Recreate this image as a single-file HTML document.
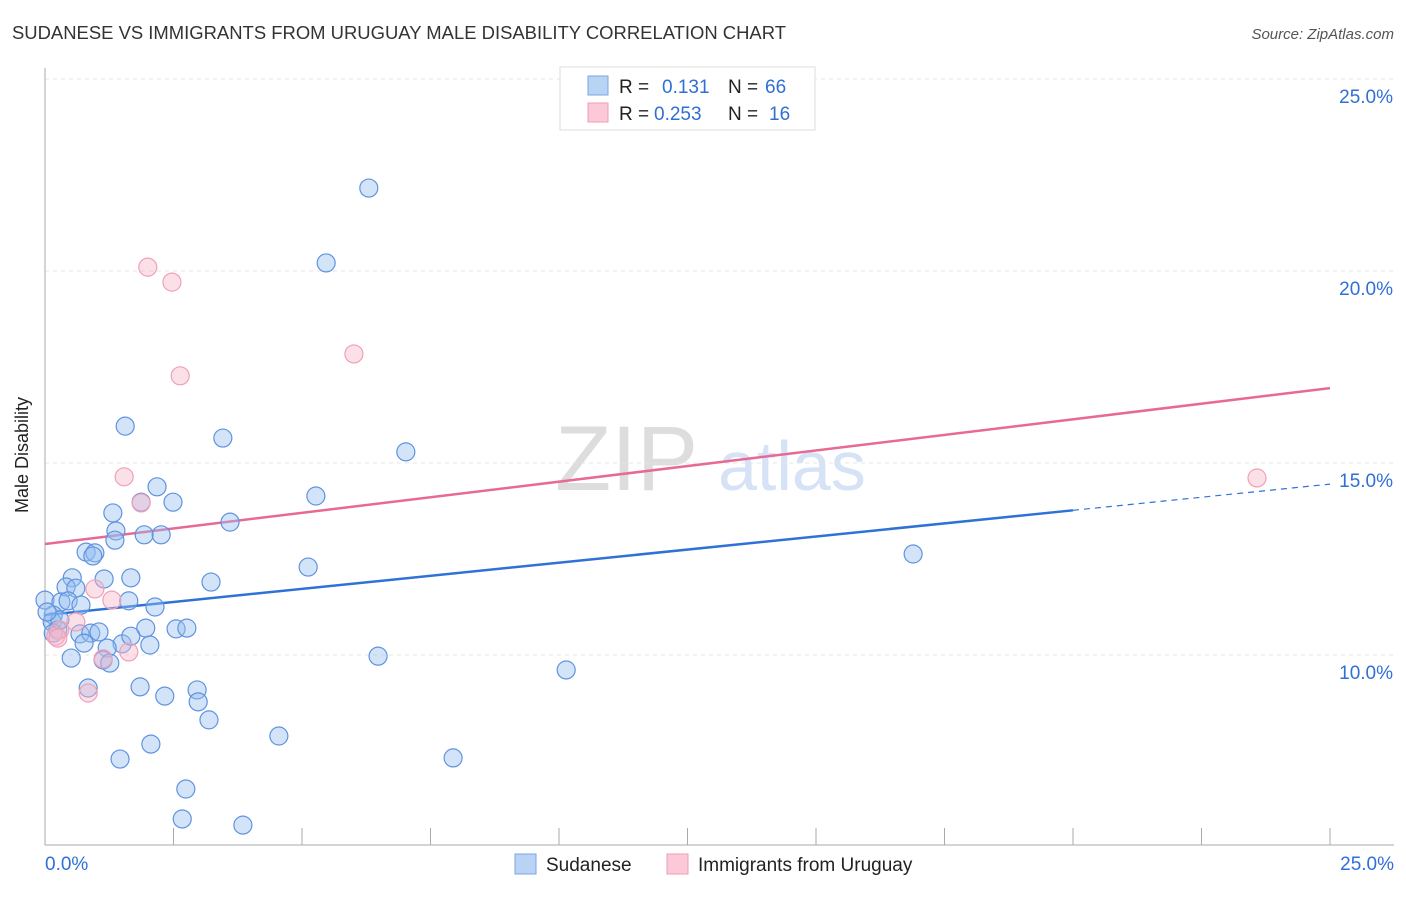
<!DOCTYPE html>
<html><head><meta charset="utf-8"><style>
body{margin:0;background:#fff;font-family:"Liberation Sans",sans-serif}
svg text{font-family:"Liberation Sans",sans-serif}
</style></head><body>
<svg id="c" width="1406" height="892" xmlns="http://www.w3.org/2000/svg">
<text x="12" y="39" font-size="18" fill="#333" textLength="774" lengthAdjust="spacingAndGlyphs">SUDANESE VS IMMIGRANTS FROM URUGUAY MALE DISABILITY CORRELATION CHART</text>
<text x="1394" y="39" font-size="15" fill="#555" font-style="italic" text-anchor="end">Source: ZipAtlas.com</text>
<g>
<text x="555" y="490" font-size="92" font-family="Liberation Serif" fill="#ddd">ZIP</text>
<text x="718" y="490" font-size="70" fill="#d6e2f5">atlas</text>
</g>
<g id="grid"></g>
<g id="axes"></g>
<g id="trend"></g>
<g id="pts"></g>
<text x="28" y="455" font-size="18" fill="#222" transform="rotate(-90 28 455)" text-anchor="middle">Male Disability</text>
<g>
<rect x="560" y="67" width="255" height="63" fill="#fff" stroke="#ddd"/>
<rect x="588" y="76" width="20" height="19" fill="#b9d3f5" stroke="#7aa6e3"/>
<rect x="588" y="103" width="20" height="19" fill="#fbc9d7" stroke="#f09ab4"/>
<text x="619" y="93" font-size="19" fill="#222">R = <tspan x="662" fill="#2f6fd6">0.131</tspan><tspan x="728" fill="#222">N = </tspan><tspan x="765" fill="#2f6fd6">66</tspan></text>
<text x="619" y="120" font-size="19" fill="#222">R = <tspan x="654" fill="#2f6fd6">0.253</tspan><tspan x="728" fill="#222">N = </tspan><tspan x="769" fill="#2f6fd6">16</tspan></text>
</g>
<g>
<rect x="515" y="854" width="21" height="20" fill="#b9d3f5" stroke="#7aa6e3"/>
<text x="546" y="871" font-size="19" fill="#222">Sudanese</text>
<rect x="667" y="854" width="21" height="20" fill="#fbc9d7" stroke="#f09ab4"/>
<text x="698" y="871" font-size="19" fill="#222">Immigrants from Uruguay</text>
</g>
</svg>
<script>
const blueX=[6.30,5.47,1.56,3.46,7.02,2.18,5.27,2.49,1.87,1.32,3.60,1.38,1.93,2.26,1.36,0.80,0.97,0.93,5.12,16.89,0.53,1.15,1.67,3.23,0.41,0.60,0,0.31,0.45,0.70,1.63,2.14,0.16,0.14,1.96,2.55,2.76,0.25,0.68,0.89,1.05,0.16,0.76,1.50,2.04,1.67,1.21,6.48,0.51,1.13,1.26,10.14,1.85,0.84,2.33,2.96,2.98,3.19,4.55,2.06,1.46,7.94,2.74,2.67,3.85,0.29,0.04];
const blueY=[22.16,20.21,15.96,15.65,15.29,14.38,14.14,13.98,13.98,13.70,13.46,13.23,13.13,13.13,12.99,12.68,12.66,12.58,12.29,12.63,12.01,11.98,12.01,11.90,11.77,11.74,11.43,11.38,11.41,11.30,11.41,11.25,11.04,10.86,10.70,10.68,10.70,10.65,10.55,10.57,10.60,10.57,10.31,10.29,10.26,10.49,10.18,9.97,9.92,9.87,9.79,9.61,9.17,9.14,8.93,9.09,8.78,8.31,7.89,7.68,7.29,7.32,6.51,5.73,5.57,10.91,11.12];
const pinkX=[2.00,2.47,6.01,2.63,1.54,1.87,23.58,0.97,1.30,0.60,0.29,0.21,0.25,1.13,1.63,0.84];
const pinkY=[20.10,19.71,17.84,17.27,14.64,13.96,14.61,11.72,11.43,10.86,10.65,10.49,10.44,9.90,10.08,9.01];
const blueTrend=[11.04,14.45];
const pinkTrend=[12.89,16.95];
const yTicks=[10,15,20,25];
const xTicks=[0,2.5,5,7.5,10,12.5,15,17.5,20,22.5,25];
const NS="http://www.w3.org/2000/svg";
const sx=v=>45+v*51.4, sy=v=>655-(v-10)*38.4;
function mk(t,a,p){const e=document.createElementNS(NS,t);for(const k in a)e.setAttribute(k,a[k]);document.getElementById(p).appendChild(e);return e;}
yTicks.forEach(v=>{
 const l=mk('line',{x1:45,x2:1394,y1:sy(v),y2:sy(v),stroke:'#e4e4e4','stroke-dasharray':'4 4'},'grid');
 
 
 const t=mk('text',{x:1393,y:sy(v)+24,'font-size':19,fill:'#2f6fd6','text-anchor':'end'},'grid');
 t.textContent=v.toFixed(1)+'%';
 
 
});
let a=mk('line',{x1:45,x2:45,y1:68,y2:845,stroke:'#aaa'},'axes');


a=mk('line',{x1:45,x2:1394,y1:845,y2:845,stroke:'#aaa'},'axes');


xTicks.forEach(v=>{
 const l=mk('line',{x1:sx(v),x2:sx(v),y1:828,y2:845,stroke:'#aaa'},'axes');
 
 
});
[[0,'start',45],[25,'end',1394]].forEach(d=>{
 const t=mk('text',{x:d[2],y:870,'font-size':19,fill:'#2f6fd6','text-anchor':d[1]},'axes');
 t.textContent=d[0].toFixed(1)+'%';
 
 
});
const by=x=>blueTrend[0]+(blueTrend[1]-blueTrend[0])*x/25, py=x=>pinkTrend[0]+(pinkTrend[1]-pinkTrend[0])*x/25;
let tl=mk('line',{x1:sx(0),y1:sy(by(0)),x2:sx(20),y2:sy(by(20)),stroke:'#2f72d6','stroke-width':2.5},'trend');


tl=mk('line',{x1:sx(20),y1:sy(by(20)),x2:sx(25),y2:sy(by(25)),stroke:'#2f72d6','stroke-width':1.2,'stroke-dasharray':'6 5'},'trend');


tl=mk('line',{x1:sx(0),y1:sy(py(0)),x2:sx(25),y2:sy(py(25)),stroke:'#e66a94','stroke-width':2.5},'trend');


blueX.forEach((x,i)=>{
 const c=mk('circle',{cx:sx(x),cy:sy(blueY[i]),r:9,fill:'rgba(150,190,240,0.42)',stroke:'#5f93df','stroke-width':1.2},'pts');
 
 
});
pinkX.forEach((x,i)=>{
 const c=mk('circle',{cx:sx(x),cy:sy(pinkY[i]),r:9,fill:'rgba(248,180,200,0.42)',stroke:'#f0a0b8','stroke-width':1.2},'pts');
 
 
});
</script>
</body></html>
